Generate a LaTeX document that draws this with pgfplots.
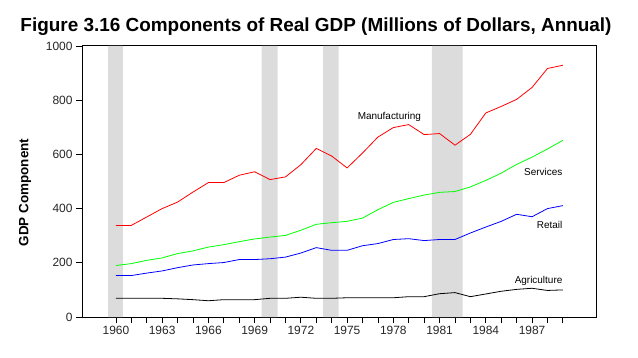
\documentclass[border=0pt]{standalone}
\usepackage{fontspec}
\setmainfont{Liberation Sans}
\usepackage{pgfplots}
\usepackage{pgfplotstable}
\pgfplotsset{compat=1.18}
\definecolor{band}{RGB}{220,220,220}
\definecolor{mygreen}{RGB}{0,255,0}

\pgfplotstableread{
year manuf serv retail agri
1960 338 190 153 69
1961 338 197 153 69
1962 369 209 162 69
1963 400 218 170 69
1964 424 234 182 67
1965 461 244 192 64
1966 496 258 197 60
1967 496 267 201 64
1968 523 278 212 64
1969 536 288 212 64
1970 507 295 215 69
1971 517 301 221 69
1972 562 320 236 73
1973 622 342 256 69
1974 594 348 246 69
1975 550 353 246 71
1976 605 365 263 71
1977 664 396 271 71
1978 699 423 286 71
1979 710 437 289 75
1980 673 450 282 75
1981 677 460 286 86
1982 634 463 286 90
1983 674 480 310 75
1984 753 504 332 85
1985 777 531 353 95
1986 803 563 379 102
1987 847 590 370 106
1988 917 620 400 98
1989 929 652 411 100
}\gdpdata

\begin{document}
\begin{tikzpicture}[x=1bp,y=1bp]
\path (0,0) rectangle (638,357);
\node[font=\fontsize{19}{22}\bfseries\selectfont] at (316,330) {Figure 3.16 Components of Real GDP (Millions of Dollars, Annual)};
\node[rotate=90,font=\fontsize{13.5}{16}\bfseries\selectfont] at (25,164.5) {GDP Component};
\begin{axis}[at={(82bp,40bp)}, anchor=south west, scale only axis,
  width=514bp, height=271bp,
  xmin=1957.8, xmax=1991.15, ymin=0, ymax=1000,
  xtick={1960,1963,...,1987}, minor xtick={1960,...,1989},
  ytick={0,200,...,1000},
  tick align=outside, major tick length=6bp, minor tick length=6bp,
  xtick pos=bottom, ytick pos=left,
  /pgf/number format/assume math mode=true, /pgf/number format/1000 sep={},
  tick label style={font=\fontsize{12}{14}\selectfont, text=black!85},
  tick style={black, line width=0.8pt},
  axis line style={line width=1pt},
]
\addplot[fill=band, draw=none] coordinates {(1959.5,0) (1959.5,1000) (1960.45,1000) (1960.45,0)} \closedcycle;
\addplot[fill=band, draw=none] coordinates {(1969.45,0) (1969.45,1000) (1970.5,1000) (1970.5,0)} \closedcycle;
\addplot[fill=band, draw=none] coordinates {(1973.45,0) (1973.45,1000) (1974.45,1000) (1974.45,0)} \closedcycle;
\addplot[fill=band, draw=none] coordinates {(1980.5,0) (1980.5,1000) (1982.5,1000) (1982.5,0)} \closedcycle;
\addplot[red, line width=0.8pt] table[x=year, y=manuf] {\gdpdata};
\addplot[mygreen, line width=0.8pt] table[x=year, y=serv] {\gdpdata};
\addplot[blue, line width=0.8pt] table[x=year, y=retail] {\gdpdata};
\addplot[black, line width=0.8pt] table[x=year, y=agri] {\gdpdata};
\node[anchor=west, inner sep=0pt, font=\fontsize{10}{12}\selectfont] at (axis cs:1975.68,738) {Manufacturing};
\node[anchor=east, inner sep=0pt, font=\fontsize{10}{12}\selectfont] at (axis cs:1988.98,535) {Services};
\node[anchor=east, inner sep=0pt, font=\fontsize{10}{12}\selectfont] at (axis cs:1988.98,341) {Retail};
\node[anchor=east, inner sep=0pt, font=\fontsize{10}{12}\selectfont] at (axis cs:1988.98,133) {Agriculture};
\end{axis}
\end{tikzpicture}
\end{document}
